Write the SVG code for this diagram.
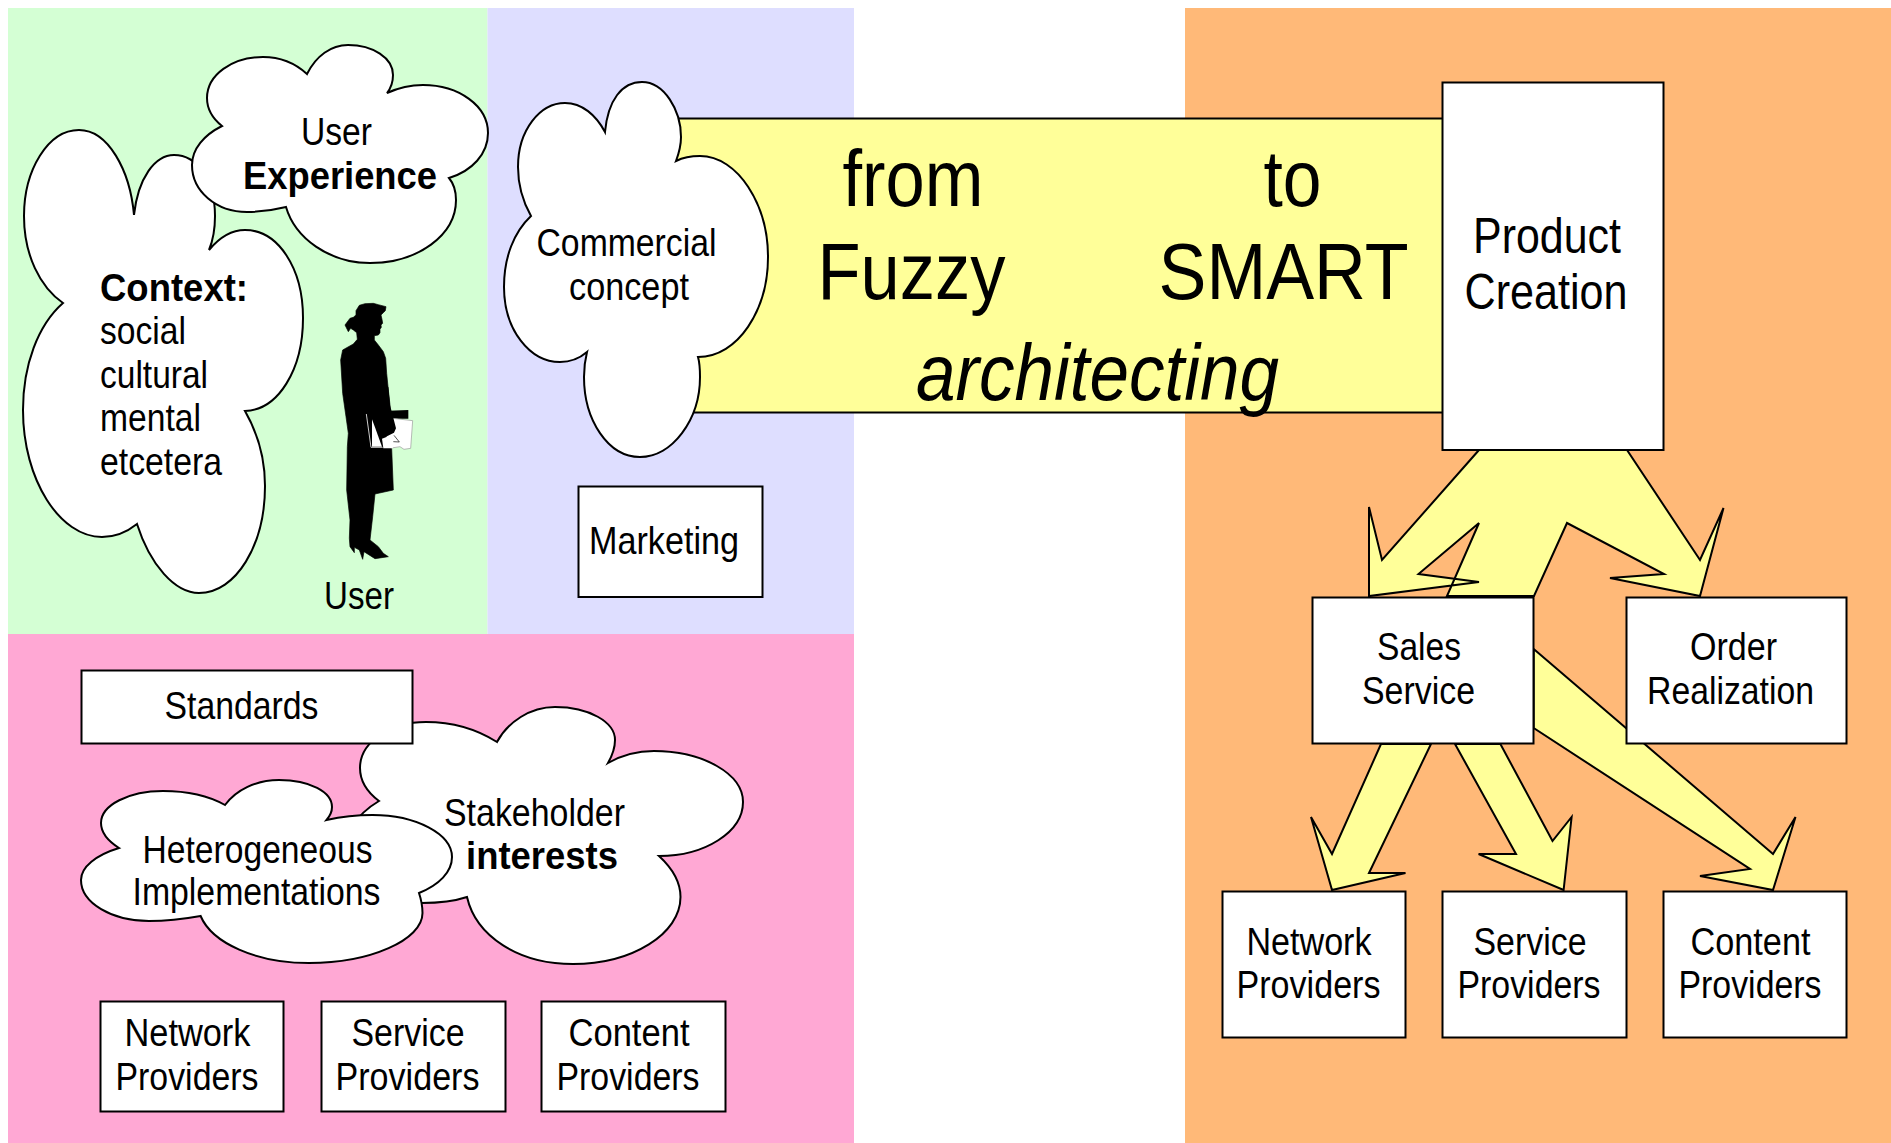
<svg xmlns="http://www.w3.org/2000/svg" width="1891" height="1143" viewBox="0 0 1891 1143">
<style>
text{font-family:"Liberation Sans",Arial,sans-serif;fill:#000;font-size:39px}
.b{font-weight:bold}
.big{font-size:80px}
.pc{font-size:50px}
.it{font-style:italic;font-size:80px}
.box{fill:#fff;stroke:#000;stroke-width:2}
.cloud{fill:#fff;stroke:#000;stroke-width:2;stroke-linejoin:miter}
.arrow{fill:#ffff99;stroke:#000;stroke-width:2;stroke-linejoin:miter}
</style>
<rect width="1891" height="1143" fill="#fff"/>
<g id="backgrounds">
<rect x="8" y="8" width="479.500" height="626" fill="#d4ffd4"/>
<rect x="487.500" y="8" width="366.500" height="626" fill="#dedeff"/>
<rect x="8" y="634" width="846" height="509" fill="#ffa8d4"/>
<rect x="1185" y="8" width="706" height="1135" fill="#ffb978"/>
</g>
<g id="connectors">
<rect class="arrow" x="660" y="118.500" width="790" height="294"/>
<polygon class="arrow" points="1479,450 1382,560 1369,507 1369,596 1479,582 1418.5,574 1479,523 1447,596 1534,596 1567,523 1664,574 1610,578 1700,596 1723.5,508 1700,560 1627,450"/>
<polygon class="arrow" points="1381,744 1332,854 1311,817 1332,890 1405.5,873 1369,873 1431,744"/>
<polygon class="arrow" points="1455,744 1516,854 1478.6,854 1563.6,890 1571.6,817 1552.5,841 1500.4,744"/>
<polygon class="arrow" points="1533.7,649 1773,854 1795.5,817 1773,890 1700,876 1750,869 1533.7,728"/>
</g>
<g id="context">
<path class="cloud" d="M134,215 C130,170 108,130 79,130 C48,130 24,170 24,216 C24,255 40,287 63,303 C38,325 23,365 23,410 C23,480 60,537 102,537 C115,537 127,532 137,524 C150,565 175,593 199,593 C236,593 265,545 265,486 C265,455 257,432 245,411 C278,410 303,370 303,318 C303,268 278,230 245,230 C232,230 219,238 209,250 C214,238 215,228 215,216 C215,180 197,155 174,155 C155,155 138,178 134,215 Z"/>
<text x="100" y="301" class="b" textLength="148" lengthAdjust="spacingAndGlyphs">Context:</text>
<text x="100" y="344" textLength="86" lengthAdjust="spacingAndGlyphs">social</text>
<text x="100" y="387.500" textLength="108" lengthAdjust="spacingAndGlyphs">cultural</text>
<text x="100" y="431" textLength="101" lengthAdjust="spacingAndGlyphs">mental</text>
<text x="100" y="474.500" textLength="122" lengthAdjust="spacingAndGlyphs">etcetera</text>
</g>
<g id="user-experience">
<path class="cloud" d="M307,74 C316,56 331,45 348,45 C373,45 393,58 393,75 C393,82 391,88 387,93 C398,88 410,85 423,85 C459,85 488,106 488,133 C488,154 472,171 449,178 C454,184 456,192 456,200 C456,235 418,263 370,263 C329,263 295,238 286,207 C274,210 261,212 247,212 C216,212 192,191 192,165 C192,149 204,135 222,126 C212,118 207,108 207,98 C207,75 232,57 263,57 C280,57 295,63 307,74 Z"/>
<text x="301" y="145" textLength="71" lengthAdjust="spacingAndGlyphs">User</text>
<text x="243" y="189" class="b" textLength="194" lengthAdjust="spacingAndGlyphs">Experience</text>
</g>
<g id="user">
<g transform="translate(320,290) scale(0.33333)">
<path fill="#000" stroke="#000" stroke-width="2" stroke-linejoin="round" d="M108,62 L118,46 L135,41 L160,40 L175,44 L198,50 L196,62 L190,68 L183,75 L186,88 L188,100 L183,105 L184,112 L180,118 L180,128 L175,135 L163,137 L163,150 L175,165 L190,185 L197,205 L200,250 L205,300 L210,345 L215,475 L220,600 L165,612 L158,680 L150,750 L175,770 L190,790 L205,800 L165,806 L132,785 L128,808 L118,780 L103,772 L103,788 L90,770 L88,745 L90,690 L80,600 L82,470 L85,430 L78,380 L68,310 L62,210 L68,180 L100,162 L112,148 L110,128 L100,120 L92,115 L85,125 L75,105 L90,85 L100,82 L108,75 Z"/>
<polygon fill="#000" points="205,362 265,360 265,386 205,386"/>
<polygon fill="#fff" stroke="#999" stroke-width="2" points="218,385 278,392 272,475 252,478 240,470 215,474 200,440 195,385"/>
<polygon fill="#fff" points="156,388 166,415 186,470 156,470"/>
<polyline fill="none" stroke="#ccc" stroke-width="3" points="139,372 153,472 188,472"/>
<polygon fill="#000" points="160,372 205,290 210,345 228,415 222,428 186,446 170,415"/>
<polygon fill="#fff" points="186,446 222,432 240,458 220,466 218,475 190,475"/>
<polyline fill="none" stroke="#000" stroke-width="2" points="222,436 238,456 220,455"/>
</g>
<text x="324" y="608.500" textLength="70" lengthAdjust="spacingAndGlyphs">User</text>
</g>
<g id="commercial-concept">
<path class="cloud" d="M605,132 C608,100 622,82 642,82 C664,82 681,110 681,137 C681,146 679,153 676,161 C682,158 691,156 700,156 C738,156 768,205 768,257 C768,310 738,357 698,357 C700,364 700,371 700,377 C700,420 672,457 640,457 C608,457 584,420 584,377 C584,368 585,360 587,352 C580,358 570,362 560,362 C530,362 504,330 504,287 C504,257 514,232 531,216 C522,200 518,185 518,167 C518,130 540,103 565,103 C582,103 596,115 605,132 Z"/>
<text x="536.500" y="255.500" textLength="180" lengthAdjust="spacingAndGlyphs">Commercial</text>
<text x="569" y="299.500" textLength="120" lengthAdjust="spacingAndGlyphs">concept</text>
</g>
<g id="marketing">
<rect class="box" x="578.500" y="486.500" width="184" height="110.500"/>
<text x="589" y="554" textLength="150" lengthAdjust="spacingAndGlyphs">Marketing</text>
</g>
<g id="stakeholder-interests">
<path class="cloud" d="M497,742 C508,722 530,707 555,707 C589,707 615,722 615,740 C615,748 612,756 608,763 C622,755 638,751 654,751 C703,751 743,774 743,802 C743,832 705,856 659,856 C672,868 680.5,882 680.5,897 C680.5,934 632,964 573,964 C518,964 476,936 467,897 C452,902 437,903 421.6,903 C380,903 340,880 340,857 C340,840 355,815 379,801 C367,792 360,780 360,768 C360,742 390,722 426,722 C453,722 478,730 497,742 Z"/>
<text x="444" y="826" textLength="181" lengthAdjust="spacingAndGlyphs">Stakeholder</text>
<text x="466" y="868.500" class="b" textLength="152" lengthAdjust="spacingAndGlyphs">interests</text>
</g>
<g id="standards">
<rect class="box" x="81.500" y="670.500" width="331" height="73"/>
<text x="164.500" y="719" textLength="154" lengthAdjust="spacingAndGlyphs">Standards</text>
</g>
<g id="heterogeneous-implementations">
<path class="cloud" d="M225,805 C236,790 256,780 279,780 C310,780 332,792 332,807 C332,812 330,816 326.5,820 C340,817 356,815 372.5,815 C416,815 452,834 452,857 C452,872 439,885 419,893 C421,899 422.5,906 422.5,913 C422.5,940 370,963 309,963 C256,963 212,943 200.6,916 C184,919 167,921 149,921 C112,921 81,903 81,880 C81,867 96,855 119,848 C108,841 101,832 101,823 C101,805 129,791 163,791 C187,791 209,796 225,805 Z"/>
<text x="142.500" y="862.500" textLength="230" lengthAdjust="spacingAndGlyphs">Heterogeneous</text>
<text x="132.500" y="905" textLength="248" lengthAdjust="spacingAndGlyphs">Implementations</text>
</g>
<g id="network-providers-left">
<rect class="box" x="100.500" y="1001.500" width="183" height="110"/>
<text x="124.500" y="1045.500" textLength="126" lengthAdjust="spacingAndGlyphs">Network</text>
<text x="115.500" y="1089.500" textLength="143" lengthAdjust="spacingAndGlyphs">Providers</text>
</g>
<g id="service-providers-left">
<rect class="box" x="321.500" y="1001.500" width="184" height="110"/>
<text x="351.500" y="1045.500" textLength="113" lengthAdjust="spacingAndGlyphs">Service</text>
<text x="335.500" y="1089.500" textLength="144" lengthAdjust="spacingAndGlyphs">Providers</text>
</g>
<g id="content-providers-left">
<rect class="box" x="541.500" y="1001.500" width="184" height="110"/>
<text x="568.500" y="1045.500" textLength="121" lengthAdjust="spacingAndGlyphs">Content</text>
<text x="556.500" y="1089.500" textLength="143" lengthAdjust="spacingAndGlyphs">Providers</text>
</g>
<g id="band-text">
<text x="842.500" y="206" class="big" textLength="141" lengthAdjust="spacingAndGlyphs">from</text>
<text x="817.500" y="299" class="big" textLength="188" lengthAdjust="spacingAndGlyphs">Fuzzy</text>
<text x="1263.500" y="206" class="big" textLength="58" lengthAdjust="spacingAndGlyphs">to</text>
<text x="1158.500" y="299" class="big" textLength="250" lengthAdjust="spacingAndGlyphs">SMART</text>
<text x="916" y="400" class="it" textLength="363" lengthAdjust="spacingAndGlyphs">architecting</text>
</g>
<g id="product-creation">
<rect class="box" x="1442.500" y="82.500" width="221" height="367.500"/>
<text x="1473" y="253" class="pc" textLength="148" lengthAdjust="spacingAndGlyphs">Product</text>
<text x="1464.500" y="309" class="pc" textLength="163" lengthAdjust="spacingAndGlyphs">Creation</text>
</g>
<g id="sales-service">
<rect class="box" x="1312.500" y="597.500" width="221" height="146"/>
<text x="1377" y="659.500" textLength="84" lengthAdjust="spacingAndGlyphs">Sales</text>
<text x="1362" y="704" textLength="113" lengthAdjust="spacingAndGlyphs">Service</text>
</g>
<g id="order-realization">
<rect class="box" x="1626.500" y="597.500" width="220" height="146"/>
<text x="1690" y="659.500" textLength="87" lengthAdjust="spacingAndGlyphs">Order</text>
<text x="1647" y="704" textLength="167" lengthAdjust="spacingAndGlyphs">Realization</text>
</g>
<g id="network-providers-right">
<rect class="box" x="1222.500" y="891.500" width="183" height="146"/>
<text x="1246.500" y="955" textLength="125" lengthAdjust="spacingAndGlyphs">Network</text>
<text x="1236.500" y="998" textLength="144" lengthAdjust="spacingAndGlyphs">Providers</text>
</g>
<g id="service-providers-right">
<rect class="box" x="1442.500" y="891.500" width="184" height="146"/>
<text x="1473.500" y="955" textLength="113" lengthAdjust="spacingAndGlyphs">Service</text>
<text x="1457.500" y="998" textLength="143" lengthAdjust="spacingAndGlyphs">Providers</text>
</g>
<g id="content-providers-right">
<rect class="box" x="1663.500" y="891.500" width="183" height="146"/>
<text x="1690.500" y="955" textLength="120" lengthAdjust="spacingAndGlyphs">Content</text>
<text x="1678.500" y="998" textLength="143" lengthAdjust="spacingAndGlyphs">Providers</text>
</g>
</svg>
